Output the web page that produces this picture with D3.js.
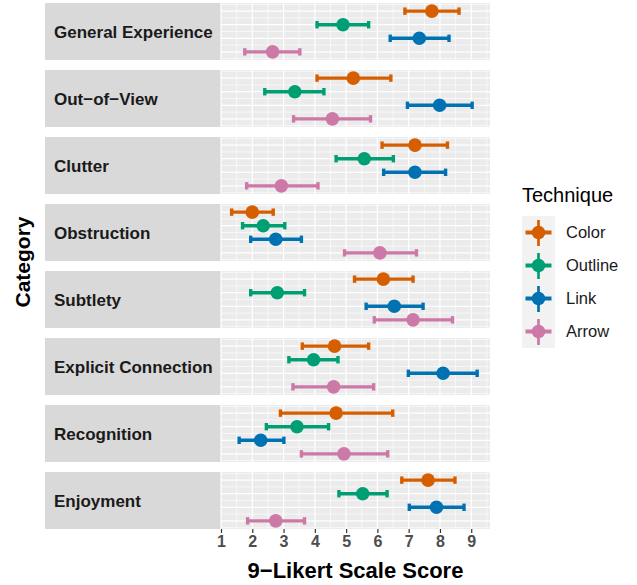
<!DOCTYPE html>
<html>
<head>
<meta charset="utf-8">
<script src="https://cdn.jsdelivr.net/npm/d3@7"></script>
<style>
  body { margin: 0; background: #fff; }
  svg text { font-family: "Liberation Sans", Arial, sans-serif; }
</style>
</head>
<body>
<div id="chart"></div>
<script>
const categories = [
  "General Experience", "Out\u2212of\u2212View", "Clutter", "Obstruction",
  "Subtlety", "Explicit Connection", "Recognition", "Enjoyment"
];
const techniques = ["Color", "Outline", "Link", "Arrow"];
const techColors = ["#D55E00", "#009E73", "#0072B2", "#CC79A7"];
const xTicks = [1, 2, 3, 4, 5, 6, 7, 8, 9];

// one row per category, one value per technique (Color, Outline, Link, Arrow)
const meanScores = [
  [7.74, 4.90, 7.34, 2.65],
  [5.23, 3.36, 7.99, 4.56],
  [7.20, 5.58, 7.20, 2.93],
  [2.00, 2.35, 2.75, 6.08],
  [6.19, 2.80, 6.54, 7.14],
  [4.63, 3.96, 8.10, 4.60],
  [4.68, 3.43, 2.27, 4.93],
  [7.62, 5.53, 7.89, 2.75]
];
const lowScores = [
  [6.88, 4.07, 6.41, 1.76],
  [4.07, 2.40, 6.96, 3.32],
  [6.15, 4.68, 6.20, 1.82],
  [1.34, 1.69, 1.95, 4.95],
  [5.27, 1.95, 5.64, 5.90],
  [3.60, 3.17, 6.99, 3.30],
  [2.90, 2.45, 1.58, 3.57],
  [6.78, 4.77, 7.02, 1.85]
];
const highScores = [
  [8.61, 5.72, 8.29, 3.52],
  [6.43, 4.29, 9.03, 5.78],
  [8.24, 6.51, 8.18, 4.10],
  [2.67, 3.04, 3.57, 7.25],
  [7.14, 3.67, 7.46, 8.40],
  [5.72, 4.74, 9.19, 5.88],
  [6.49, 4.44, 3.01, 6.33],
  [8.48, 6.31, 8.77, 3.67]
];

const width = 637, height = 585;
const stripLeft = 45, panelLeft = 221, panelRight = 490;
const panelTop = 3, panelH = 57, panelGap = 10;

const svg = d3.select("#chart").append("svg")
  .attr("width", width)
  .attr("height", height);

const x = d3.scaleLinear().domain([1, 9.6]).range([panelLeft, panelRight]);
const y = d3.scaleLinear().domain([0.4, 4.6]).range([0, panelH]);
const color = d3.scaleOrdinal().domain(techniques).range(techColors);

categories.forEach((cat, ci) => {
  const top = panelTop + ci * (panelH + panelGap);
  const g = svg.append("g").attr("transform", `translate(0,${top})`);

  // strip
  g.append("rect")
    .attr("x", stripLeft).attr("y", 0)
    .attr("width", panelLeft - stripLeft).attr("height", panelH)
    .attr("fill", "#d9d9d9");
  g.append("text")
    .attr("x", stripLeft + 9)
    .attr("y", panelH / 2)
    .attr("dy", "0.36em")
    .style("font-size", "17px")
    .style("font-weight", "bold")
    .style("fill", "#1a1a1a")
    .text(cat);

  // panel background
  g.append("rect")
    .attr("x", panelLeft).attr("y", 0)
    .attr("width", panelRight - panelLeft).attr("height", panelH)
    .attr("fill", "#ebebeb");

  // minor grid
  g.selectAll(".vminor")
    .data(d3.range(1.5, 9.6, 1))
    .join("line")
    .attr("x1", d => x(d)).attr("x2", d => x(d))
    .attr("y1", 0).attr("y2", panelH)
    .attr("stroke", "#fff").attr("stroke-width", 0.6);
  g.selectAll(".hminor")
    .data(d3.range(0.5, 4.6, 1))
    .join("line")
    .attr("x1", panelLeft).attr("x2", panelRight)
    .attr("y1", d => y(d)).attr("y2", d => y(d))
    .attr("stroke", "#fff").attr("stroke-width", 0.6);
  // major grid
  g.selectAll(".vmajor")
    .data(xTicks)
    .join("line")
    .attr("x1", d => x(d)).attr("x2", d => x(d))
    .attr("y1", 0).attr("y2", panelH)
    .attr("stroke", "#fff").attr("stroke-width", 1.2);
  g.selectAll(".hmajor")
    .data([1, 2, 3, 4])
    .join("line")
    .attr("x1", panelLeft).attr("x2", panelRight)
    .attr("y1", d => y(d)).attr("y2", d => y(d))
    .attr("stroke", "#fff").attr("stroke-width", 1.2);

  const rows = techniques.map((t, ti) => ({
    tech: t,
    pos: ti + 1,
    mean: meanScores[ci][ti],
    low: lowScores[ci][ti],
    high: highScores[ci][ti]
  }));

  const bars = g.selectAll(".err")
    .data(rows)
    .join("g")
    .attr("stroke", d => color(d.tech))
    .attr("stroke-width", 3.4);
  bars.append("line")
    .attr("x1", d => x(d.low)).attr("x2", d => x(d.high))
    .attr("y1", d => y(d.pos)).attr("y2", d => y(d.pos));
  bars.append("line")
    .attr("x1", d => x(d.low)).attr("x2", d => x(d.low))
    .attr("y1", d => y(d.pos) - 3.7).attr("y2", d => y(d.pos) + 3.7);
  bars.append("line")
    .attr("x1", d => x(d.high)).attr("x2", d => x(d.high))
    .attr("y1", d => y(d.pos) - 3.7).attr("y2", d => y(d.pos) + 3.7);

  g.selectAll(".pt")
    .data(rows)
    .join("circle")
    .attr("cx", d => x(d.mean))
    .attr("cy", d => y(d.pos))
    .attr("r", 6.8)
    .attr("fill", d => color(d.tech));
});

// x axis
const axisTop = panelTop + categories.length * panelH + (categories.length - 1) * panelGap;
const xAxis = svg.append("g")
  .attr("transform", `translate(0,${axisTop})`)
  .call(d3.axisBottom(x).tickValues(xTicks).tickSize(4).tickPadding(3).tickFormat(d3.format("d")));
xAxis.select(".domain").remove();
xAxis.selectAll("line").attr("stroke", "#333").attr("stroke-width", 1.2);
xAxis.selectAll("text")
  .style("font-size", "16px")
  .style("font-weight", "bold")
  .style("fill", "#4d4d4d")
  .style("font-family", "'Liberation Sans', Arial, sans-serif");

svg.append("text")
  .attr("x", (panelLeft + panelRight) / 2)
  .attr("y", 578)
  .attr("text-anchor", "middle")
  .style("font-size", "22px")
  .style("font-weight", "bold")
  .text("9\u2212Likert Scale Score");

svg.append("text")
  .attr("transform", "rotate(-90)")
  .attr("x", -262)
  .attr("y", 30)
  .attr("text-anchor", "middle")
  .style("font-size", "21px")
  .style("font-weight", "bold")
  .text("Category");

// legend
const legend = svg.append("g").attr("transform", "translate(522,202)");
legend.append("text")
  .attr("x", 0).attr("y", 0)
  .style("font-size", "20px")
  .text("Technique");

const keySize = 33;
const items = legend.selectAll(".legend-item")
  .data(techniques)
  .join("g")
  .attr("transform", (d, i) => `translate(0,${14 + i * keySize})`);
items.append("rect")
  .attr("width", keySize).attr("height", keySize)
  .attr("fill", "#f2f2f2");
items.append("line")
  .attr("x1", keySize / 2).attr("x2", keySize / 2)
  .attr("y1", 4).attr("y2", keySize - 3)
  .attr("stroke", d => color(d)).attr("stroke-width", 2.7);
items.append("line")
  .attr("x1", 3.5).attr("x2", keySize - 3.5)
  .attr("y1", keySize / 2).attr("y2", keySize / 2)
  .attr("stroke", d => color(d)).attr("stroke-width", 4);
items.append("circle")
  .attr("cx", keySize / 2).attr("cy", keySize / 2)
  .attr("r", 6.8)
  .attr("fill", d => color(d));
items.append("text")
  .attr("x", keySize + 11)
  .attr("y", keySize / 2)
  .attr("dy", "0.36em")
  .style("font-size", "16.5px")
  .style("fill", "#1a1a1a")
  .text(d => d);
</script>
</body>
</html>
